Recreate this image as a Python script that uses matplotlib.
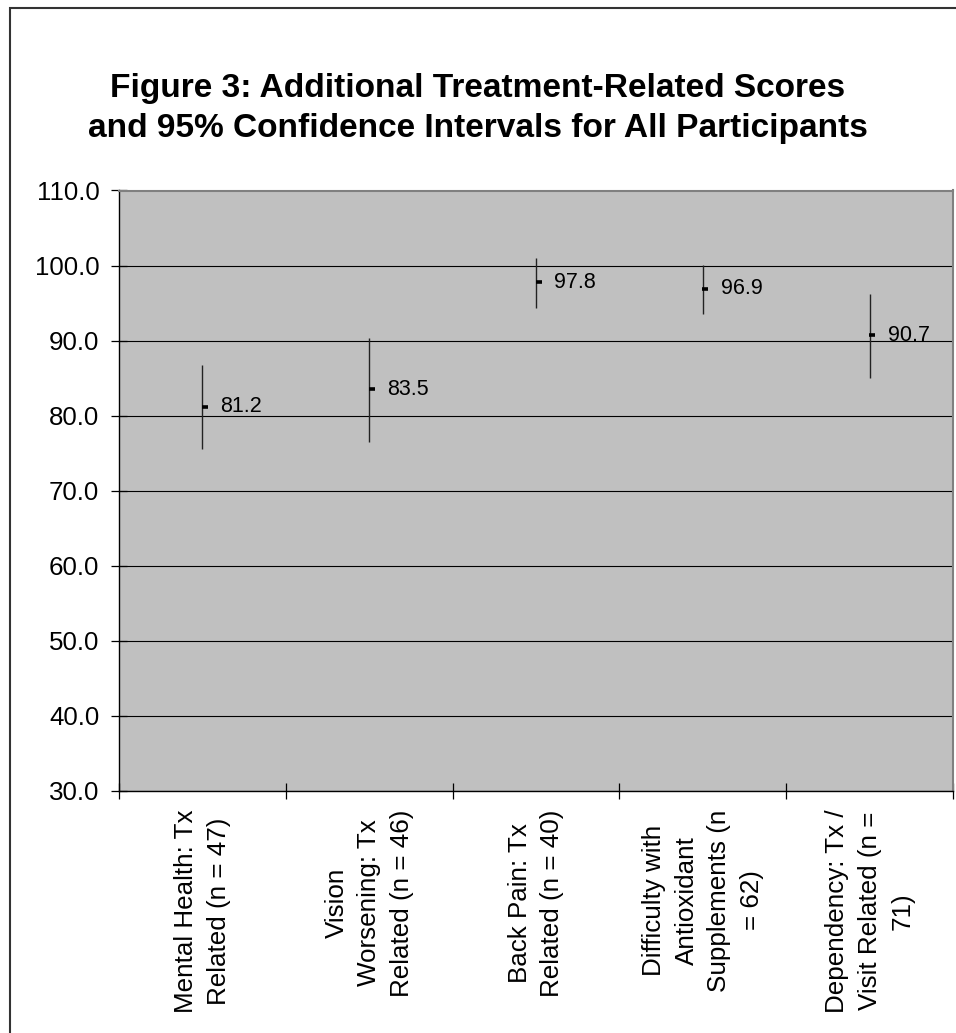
import matplotlib
matplotlib.use('Agg')
import matplotlib.pyplot as plt
from matplotlib.patches import Rectangle
from matplotlib.ticker import FormatStrFormatter, FixedLocator
from matplotlib.transforms import offset_copy


TITLE = 'Figure 3: Additional Treatment-Related Scores\nand 95% Confidence Intervals for All Participants'
CATEGORIES = [
	'Mental Health: Tx\nRelated (n = 47)',
	'Vision\nWorsening: Tx\nRelated (n = 46)',
	'Back Pain: Tx\nRelated (n = 40)',
	'Difficulty with\nAntioxidant\nSupplements (n\n= 62)',
	'Dependency: Tx /\nVisit Related (n =\n71)',
]
MEANS = [81.2, 83.5, 97.8, 96.9, 90.7]
LOWER = [75.5, 76.5, 94.4, 93.6, 85.0]
UPPER = [86.7, 90.3, 101.0, 100.1, 96.2]
Y_TICKS = [30, 40, 50, 60, 70, 80, 90, 100, 110]

W, H = 956, 1033
plt.rcParams['font.family'] = ['Liberation Sans', 'DejaVu Sans']


def px(v, total):
	return v / total


fig = plt.figure(figsize=(W / 100, H / 100), dpi=100)
fig.patch.set_facecolor('white')

# outer chart frame (cropped at right and bottom in the original)
fig.add_artist(Rectangle((px(9.5, W), -0.05), 1.2, 1 - px(7.5, H) + 0.05,
	transform=fig.transFigure, fill=False, edgecolor='#333333', linewidth=1.5))

fig.text(0.5, 1 - px(73, H), TITLE, ha='center', va='top', fontsize=24.1,
	fontweight='bold', linespacing=1.36)

left, right, top, bottom = 119, 953, 190.5, 791
ax = fig.add_axes([px(left, W), 1 - px(bottom, H), px(right - left, W), px(bottom - top, H)])
ax.set_facecolor('#C0C0C0')

xs = list(range(1, len(CATEGORIES) + 1))
yerr = [[m - lo for m, lo in zip(MEANS, LOWER)], [hi - m for m, hi in zip(MEANS, UPPER)]]
ax.errorbar(xs, MEANS, yerr=yerr, fmt='none', ecolor='#222222', elinewidth=1.0, capsize=0, zorder=3)
shifted = offset_copy(ax.transData, fig=fig, x=2.5, y=0, units='dots')
ax.plot(xs, MEANS, linestyle='none', marker='_', markersize=4, markeredgewidth=2.6,
	color='black', transform=shifted, zorder=4)
for x, m in zip(xs, MEANS):
	ax.annotate(f'{m:.1f}', (x, m), xytext=(13, 0), textcoords='offset points',
		va='center', ha='left', fontsize=15.5)

ax.set_xlim(0.5, len(CATEGORIES) + 0.5)
ax.set_ylim(30, 110)
ax.set_yticks(Y_TICKS)
ax.yaxis.set_major_formatter(FormatStrFormatter('%.1f'))
ax.yaxis.grid(True, color='black', linewidth=0.8)
ax.set_axisbelow(True)

ax.xaxis.set_major_locator(FixedLocator([x + 0.5 for x in range(len(CATEGORIES) + 1)]))
ax.xaxis.set_major_formatter(plt.NullFormatter())
ax.xaxis.set_minor_locator(FixedLocator(xs))
ax.set_xticklabels(CATEGORIES, minor=True, rotation=90, ha='center', va='top',
	multialignment='center', linespacing=1.45, fontsize=18.7)

ax.tick_params(axis='both', which='major', direction='inout', length=12, width=0.9, color='black')
ax.tick_params(axis='y', labelsize=18.6, pad=8.2)
ax.tick_params(axis='x', which='minor', length=0, pad=13.2)

for side in ('top', 'right'):
	ax.spines[side].set_color('#808080')
	ax.spines[side].set_linewidth(1.5)
for side in ('left', 'bottom'):
	ax.spines[side].set_color('black')
	ax.spines[side].set_linewidth(1.0)

fig.savefig('out.png', dpi=100)
